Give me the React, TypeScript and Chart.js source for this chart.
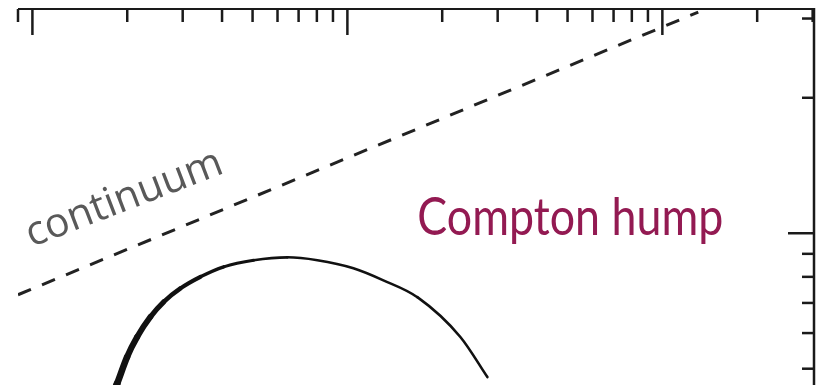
import React, { useEffect, useRef } from "react";
import { Chart, registerables } from "chart.js";

Chart.register(...registerables);

// Energy (arbitrary log units) and flux values
const continuumEnergy = [9, 1300];
const continuumFlux = [0.73, 3.1];

const humpEnergy = [17.43, 18.57, 19.98, 21.5, 23.7, 26.12, 29.5, 34.15, 40.49, 50.4, 64.5, 80.3, 104.5, 130.1, 166.8, 228.4, 278.3];
const humpFlux = [0.415, 0.463, 0.531, 0.588, 0.652, 0.704, 0.754, 0.8, 0.842, 0.871, 0.884, 0.871, 0.836, 0.786, 0.721, 0.588, 0.479];
const humpWidths = [7, 6.6, 6.2, 5.8, 5.2, 4.6, 4, 3.4, 3, 2.7, 2.5, 2.5, 2.5, 2.5, 2.6, 2.6];

const xMajorTicks = [10, 100, 1000];
const xMinorTicks = [9, 20, 30, 40, 50, 60, 70, 80, 90, 200, 300, 400, 500, 600, 700, 800, 900, 2000, 3000];
const yMajorTicks = [1];
const yMinorTicks = [0.5, 0.6, 0.7, 0.8, 0.9, 2, 3];

const labelTexts = ["continuum", "Compton hump"];
const labelEnergy = [9.93, 166.8];
const labelFlux = [0.931, 0.99];

const X_MIN = 9;
const X_MAX = 3030;
const Y_MIN = 0.46;
const Y_MAX = 3.15;

const framePlugin = {
  id: "frame",
  afterDatasetsDraw(chart: any) {
    const { ctx, chartArea } = chart;
    const xs = chart.scales.x;
    const ys = chart.scales.y;
    const { left, right, top, bottom } = chartArea;
    ctx.save();
    ctx.strokeStyle = "#1a1a1a";
    ctx.lineCap = "butt";
    // top axis
    ctx.lineWidth = 2;
    ctx.beginPath();
    ctx.moveTo(left, top);
    ctx.lineTo(right, top);
    ctx.stroke();
    // right axis
    ctx.lineWidth = 2.5;
    ctx.beginPath();
    ctx.moveTo(right, top - 1);
    ctx.lineTo(right, bottom);
    ctx.stroke();
    // top ticks (inward)
    ctx.lineWidth = 2.5;
    const drawX = (v: number, len: number) => {
      const px = xs.getPixelForValue(v);
      ctx.beginPath();
      ctx.moveTo(px, top);
      ctx.lineTo(px, top + len);
      ctx.stroke();
    };
    xMajorTicks.forEach((v) => drawX(v, 26));
    xMinorTicks.forEach((v) => drawX(v, 13));
    const drawY = (v: number, len: number) => {
      const py = ys.getPixelForValue(v);
      ctx.beginPath();
      ctx.moveTo(right, py);
      ctx.lineTo(right - len, py);
      ctx.stroke();
    };
    yMajorTicks.forEach((v) => drawY(v, 26));
    yMinorTicks.forEach((v) => drawY(v, 12));

    // continuum label
    {
      const px = xs.getPixelForValue(labelEnergy[0]);
      const py = ys.getPixelForValue(labelFlux[0]);
      ctx.save();
      ctx.translate(px, py);
      ctx.rotate((-21 * Math.PI) / 180);
      ctx.font = '41px "Open Sans"';
      ctx.fillStyle = "#595959";
      ctx.textBaseline = "alphabetic";
      ctx.textAlign = "left";
      ctx.fillText(labelTexts[0], 0, 0);
      ctx.restore();
    }
    // Compton hump label
    {
      const px = xs.getPixelForValue(labelEnergy[1]);
      const py = ys.getPixelForValue(labelFlux[1]);
      ctx.save();
      ctx.font = '52px "Lato"';
      const w = ctx.measureText(labelTexts[1]).width;
      const targetW = 306;
      ctx.translate(px, py);
      ctx.scale(targetW / w, 1);
      ctx.fillStyle = "#931a52";
      ctx.textBaseline = "alphabetic";
      ctx.textAlign = "left";
      ctx.fillText(labelTexts[1], 0, 0);
      ctx.restore();
    }
    ctx.restore();
  },
};

export default function App() {
  const ref = useRef<HTMLCanvasElement | null>(null);
  useEffect(() => {
    if (!ref.current) return;
    const chart = new Chart(ref.current, {
      type: "line",
      data: {
        datasets: [
          {
            label: "continuum",
            data: continuumEnergy.map((x, i) => ({ x, y: continuumFlux[i] })),
            borderColor: "#222",
            borderWidth: 3,
            borderDash: [14, 12],
            pointRadius: 0,
            fill: false,
            tension: 0,
          },
          {
            label: "Compton hump",
            data: humpEnergy.map((x, i) => ({ x, y: humpFlux[i] })),
            borderColor: "#111",
            borderWidth: 2.5,
            borderCapStyle: "round",
            borderJoinStyle: "round",
            pointRadius: 0,
            fill: false,
            cubicInterpolationMode: "monotone",
            segment: {
              borderWidth: (c: any) => humpWidths[c.p0DataIndex] ?? 2.5,
            },
          },
        ],
      },
      options: {
        responsive: false,
        maintainAspectRatio: false,
        animation: false,
        layout: { padding: { left: 18, top: 9, right: 8, bottom: 0 } },
        plugins: { legend: { display: false }, tooltip: { enabled: false } },
        scales: {
          x: { type: "logarithmic", min: X_MIN, max: X_MAX, display: false },
          y: { type: "logarithmic", min: Y_MIN, max: Y_MAX, display: false },
        },
      },
      plugins: [framePlugin],
    });
    return () => chart.destroy();
  }, []);
  return (
    <div style={{ position: "absolute", left: 0, top: 0, width: 822, height: 385, background: "#fff" }}>
      <canvas ref={ref} width={822} height={385} style={{ width: 822, height: 385, display: "block" }} />
    </div>
  );
}
